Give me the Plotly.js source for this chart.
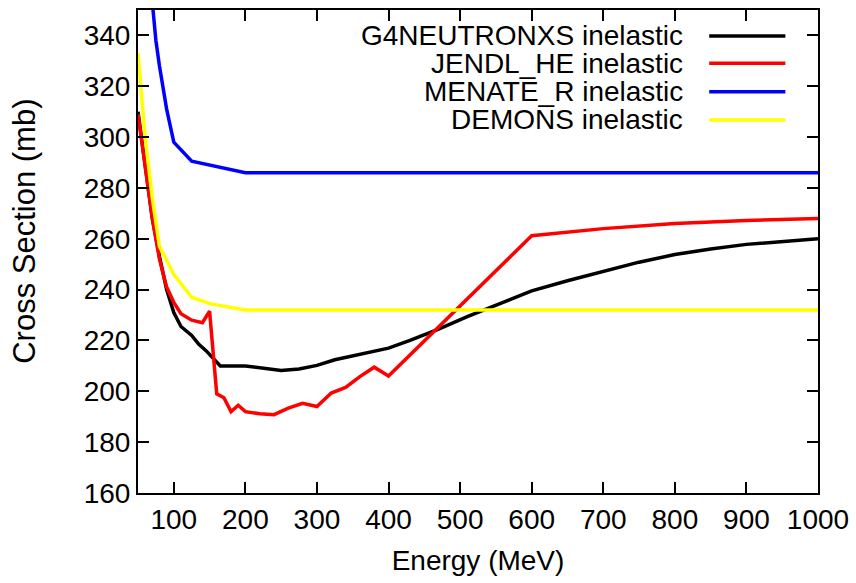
<!DOCTYPE html>
<html>
<head>
<meta charset="utf-8">
<script src="https://cdn.plot.ly/plotly-3.0.1.min.js"></script>
<style>html,body{margin:0;padding:0;background:#fff;}#chart{width:856px;height:583px;}</style>
</head>
<body>
<div id="chart"></div>
<script>
// G4NEUTRONXS inelastic
const g4X = [50, 60, 70, 80, 90, 100, 110, 125, 135, 145, 153, 165, 200, 250, 275, 300, 325, 350, 375, 400, 430, 470, 510, 550, 600, 650, 700, 750, 800, 850, 900, 950, 1000];
const g4Y = [310, 289, 268, 253, 240, 231, 225.5, 222, 218.5, 216, 213.7, 210, 210, 208.2, 208.8, 210.2, 212.4, 214, 215.5, 217, 220, 224.5, 229.4, 234, 239.5, 243.5, 247.3, 250.8, 253.8, 256, 257.8, 259, 260];
// JENDL_HE inelastic
const jendlX = [50, 60, 70, 80, 90, 100, 110, 125, 140, 150, 160, 170, 180, 190, 200, 220, 240, 260, 280, 300, 320, 340, 360, 380, 400, 600, 700, 800, 900, 1000];
const jendlY = [309, 288, 268, 252, 241, 235, 230.5, 228, 227, 231.5, 199, 197.5, 192, 194.5, 192, 191.2, 190.8, 193.4, 195.3, 194, 199.3, 201.5, 205.8, 209.5, 206, 261.2, 264, 266, 267.2, 268];
// MENATE_R inelastic
const menateX = [50, 60, 70, 75, 80, 90, 100, 125, 200, 1000];
const menateY = [420, 385, 353, 338, 328, 311, 298, 290.5, 286, 286];
// DEMONS inelastic
const demonsX = [50, 60, 70, 80, 100, 125, 150, 200, 1000];
const demonsY = [333, 300, 276, 257, 246, 237, 234.5, 232, 232];

const seriesNames = ["G4NEUTRONXS inelastic", "JENDL_HE inelastic", "MENATE_R inelastic", "DEMONS inelastic"];
const seriesColors = ["#000000", "#ff0000", "#0000ff", "#ffff00"];
const xs = [g4X, jendlX, menateX, demonsX];
const ys = [g4Y, jendlY, menateY, demonsY];

const FONT = "Liberation Sans, Arial, sans-serif";
const traces = xs.map((x, i) => ({
  x: x, y: ys[i], type: "scatter", mode: "lines", name: seriesNames[i],
  line: {color: seriesColors[i], width: 3.5}, showlegend: false, cliponaxis: true
}));

// custom legend (text right, sample line on the right, like gnuplot)
const legendY = [0.9462, 0.8897, 0.8310, 0.7724];
const annotations = seriesNames.map((n, i) => ({
  xref: "paper", yref: "paper", x: 0.804, y: legendY[i], xanchor: "right", yanchor: "middle",
  text: n, showarrow: false, font: {family: FONT, size: 28, color: "#000"}
}));
// y-axis title (placed like gnuplot, slightly above centre)
annotations.push({
  xref: "paper", yref: "paper", x: -0.167, y: 0.5417, xanchor: "center", yanchor: "middle",
  textangle: -90, text: "Cross Section (mb)", showarrow: false,
  font: {family: FONT, size: 31, color: "#000"}
});
const shapes = seriesNames.map((n, i) => ({
  type: "line", xref: "paper", yref: "paper", x0: 0.84, x1: 0.952, y0: legendY[i], y1: legendY[i],
  line: {color: seriesColors[i], width: 3.5}
}));

const axisCommon = {
  showline: true, linecolor: "#000", linewidth: 2, mirror: "allticks",
  ticks: "inside", ticklen: 11, tickwidth: 2, tickcolor: "#000",
  showgrid: false, zeroline: false,
  tickfont: {family: FONT, size: 28, color: "#000"}
};

const layout = {
  width: 856, height: 583,
  margin: {l: 138, r: 38, t: 10, b: 90},
  paper_bgcolor: "#fff", plot_bgcolor: "#fff",
  showlegend: false,
  xaxis: Object.assign({}, axisCommon, {
    range: [50, 1000], tick0: 0, dtick: 100,
    title: {text: "Energy (MeV)", font: {family: FONT, size: 28, color: "#000"}, standoff: 17}
  }),
  yaxis: Object.assign({}, axisCommon, {
    range: [160, 350], tick0: 0, dtick: 20
  }),
  annotations: annotations,
  shapes: shapes
};

Plotly.newPlot("chart", traces, layout, {staticPlot: true, displayModeBar: false});
</script>
</body>
</html>
